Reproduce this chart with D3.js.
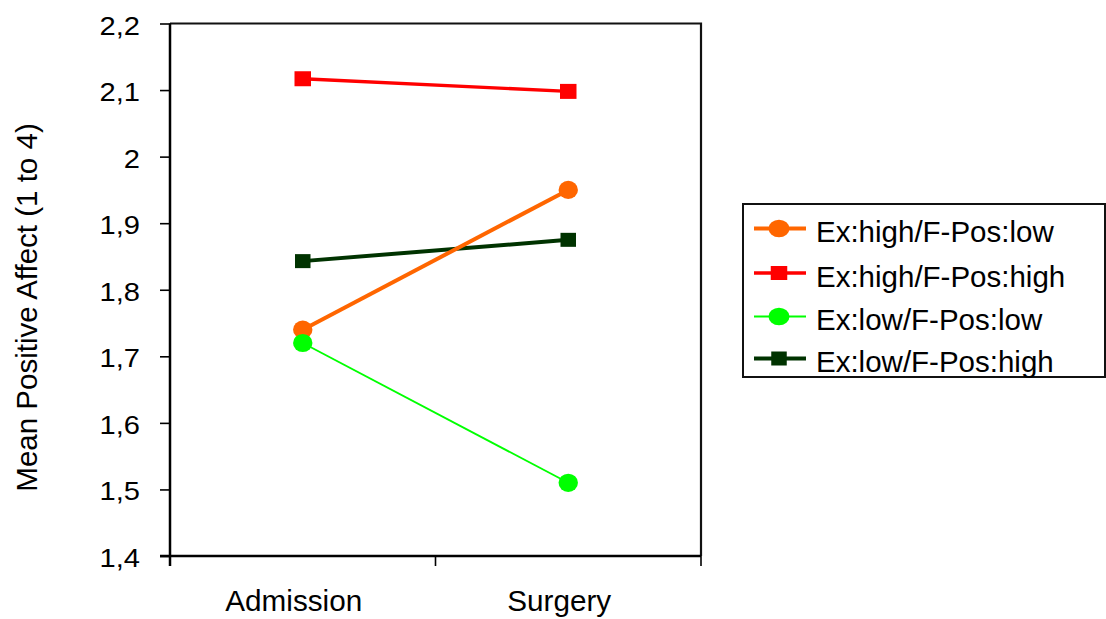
<!DOCTYPE html>
<html>
<head>
<meta charset="utf-8">
<script src="https://cdn.jsdelivr.net/npm/d3@7"></script>
<style>
  html, body { margin: 0; padding: 0; background: #fff; }
  svg { display: block; font-family: "Liberation Sans", Arial, sans-serif; }
</style>
</head>
<body>
<svg id="chart" width="1106" height="619"></svg>
<script>
const categories = ["Admission", "Surgery"];
const seriesNames = ["Ex:high/F-Pos:low", "Ex:high/F-Pos:high", "Ex:low/F-Pos:low", "Ex:low/F-Pos:high"];
const exHighFPosLow  = [1.740, 1.950];
const exHighFPosHigh = [2.117, 2.098];
const exLowFPosLow   = [1.720, 1.510];
const exLowFPosHigh  = [1.843, 1.875];
const yTicks = [1.4, 1.5, 1.6, 1.7, 1.8, 1.9, 2.0, 2.1, 2.2];
const yTickLabels = ["1,4", "1,5", "1,6", "1,7", "1,8", "1,9", "2", "2,1", "2,2"];
const yTitle = "Mean Positive Affect (1 to 4)";

const seriesValues = [exHighFPosLow, exHighFPosHigh, exLowFPosLow, exLowFPosHigh];
const styles = [
  { color: "#FF6600", width: 4,   marker: "circle" },
  { color: "#FF0000", width: 3.3, marker: "square", w: 16.5, h: 15 },
  { color: "#00FF00", width: 1.8, marker: "circle" },
  { color: "#003300", width: 4,   marker: "square", w: 15.5, h: 14 }
];

const svg = d3.select("#chart");
const L = 170, R = 701, T = 23.5, B = 556;

const x = d3.scaleBand().domain(categories).range([L, R]);
const xc = c => x(c) + x.bandwidth() / 2;
const y = d3.scaleLinear().domain([1.4, 2.2]).range([B, T]);

// frame (top & right)
svg.append("path")
  .attr("d", `M${L},${T}H${R}V${B}`)
  .attr("fill", "none").attr("stroke", "#111").attr("stroke-width", 2.2);

// y axis
const yAxis = svg.append("g").attr("transform", `translate(${L},0)`)
  .call(d3.axisLeft(y).tickValues(yTicks).tickSize(10)
    .tickFormat((d, i) => yTickLabels[i]));
yAxis.select(".domain").attr("stroke", "#000").attr("stroke-width", 2.5)
  .attr("d", `M0,${T}V${B + 10}`);
yAxis.selectAll(".tick line").attr("stroke", "#000").attr("stroke-width", 1.6);
yAxis.selectAll(".tick text")
  .attr("font-size", 26).attr("fill", "#000")
  .attr("font-family", "Liberation Sans, Arial, sans-serif")
  .attr("text-anchor", "end")
  .attr("x", -30 / 1.12).attr("dy", null).attr("y", 10.5)
  .attr("transform", "scale(1.12,1)");

// x axis
const xAxisG = svg.append("g").attr("transform", `translate(0,${B})`);
xAxisG.append("line").attr("x1", L - 10).attr("x2", R).attr("y1", 0).attr("y2", 0)
  .attr("stroke", "#000").attr("stroke-width", 2.5);
const xTickPos = [L, L + x.bandwidth(), R];
xAxisG.selectAll(".xt").data(xTickPos).join("line")
  .attr("x1", d => d).attr("x2", d => d).attr("y1", 0).attr("y2", 10)
  .attr("stroke", "#000").attr("stroke-width", 1.6);
svg.selectAll(".xl").data(categories).join("text")
  .attr("x", d => xc(d) - 9).attr("y", 611)
  .attr("text-anchor", "middle").attr("font-size", 29.7).attr("fill", "#000")
  .text(d => d);

// y title
svg.append("text")
  .attr("transform", `translate(37,307.5) rotate(-90)`)
  .attr("text-anchor", "middle").attr("font-size", 29.5).attr("fill", "#000")
  .text(yTitle);

// series
const line = d3.line().x((d, i) => xc(categories[i])).y(d => y(d));
function drawMarker(g, s, cx, cy) {
  if (s.marker === "circle") {
    g.append("ellipse").attr("cx", cx).attr("cy", cy).attr("rx", 9.7).attr("ry", 9.1)
      .attr("fill", s.color);
  } else {
    g.append("rect").attr("x", cx - s.w / 2).attr("y", cy - s.h / 2)
      .attr("width", s.w).attr("height", s.h).attr("fill", s.color);
  }
}
const order = [1, 3, 0, 2];
order.forEach(k => {
  const s = styles[k];
  const g = svg.append("g");
  g.append("path").datum(seriesValues[k]).attr("d", line)
    .attr("fill", "none").attr("stroke", s.color).attr("stroke-width", s.width);
  seriesValues[k].forEach((v, i) => drawMarker(g, s, xc(categories[i]), y(v)));
});

// legend
const lg = svg.append("g");
lg.append("rect").attr("x", 743).attr("y", 204).attr("width", 362).attr("height", 173)
  .attr("fill", "#fff").attr("stroke", "#111").attr("stroke-width", 2);
const rowY = [228.5, 273, 316.5, 358.5];
seriesNames.forEach((name, k) => {
  const s = styles[k];
  const cy = rowY[k];
  lg.append("line").attr("x1", 754).attr("x2", 806).attr("y1", cy).attr("y2", cy)
    .attr("stroke", s.color).attr("stroke-width", s.width);
  if (s.marker === "circle") {
    lg.append("ellipse").attr("cx", 779).attr("cy", cy).attr("rx", 10.5).attr("ry", 8.8)
      .attr("fill", s.color);
  } else {
    lg.append("rect").attr("x", 779 - s.w / 2).attr("y", cy - 7).attr("width", s.w).attr("height", 14)
      .attr("fill", s.color);
  }
  lg.append("text").attr("x", 816).attr("y", cy + 13.5)
    .attr("font-size", 29.5).attr("fill", "#000").text(name);
});
</script>
</body>
</html>
